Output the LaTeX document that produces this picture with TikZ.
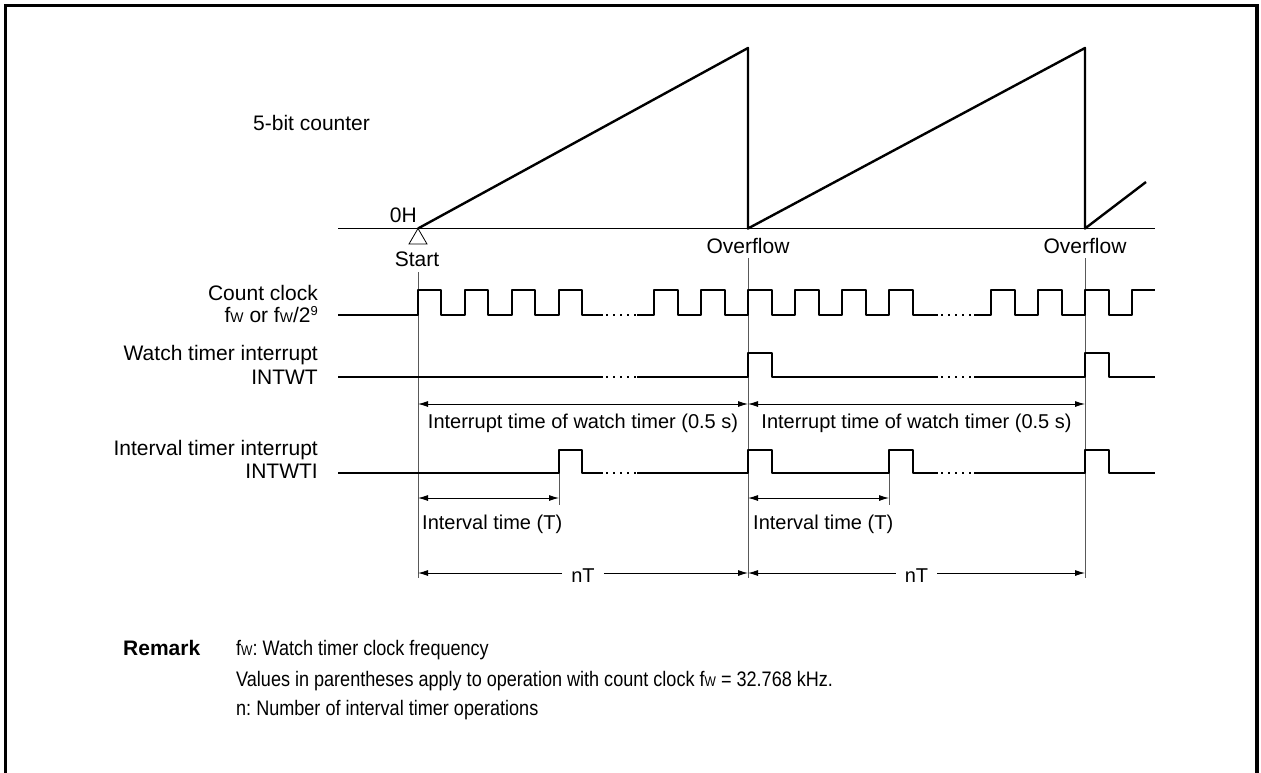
\documentclass[tikz,border=0pt]{standalone}
\usepackage{fontspec}
\setmainfont{Liberation Sans}
\newfontfamily\remfont[FakeStretch=0.86]{Liberation Sans}
\usetikzlibrary{arrows.meta}
\newcommand{\fW}{f{\fontsize{14}{14}\selectfont W}}
\frenchspacing
\begin{document}
\begin{tikzpicture}[x=1pt,y=-1pt,
  sig/.style={line width=2.4pt, line join=round},
  guide/.style={line width=0.9pt, black!65},
  dimline/.style={line width=0.9pt, {Latex[length=10pt,width=6pt]}-{Latex[length=10pt,width=6pt]}},
  dimend/.style={line width=0.9pt, -{Latex[length=10pt,width=6pt]}},
  lbl/.style={font=\fontsize{21}{25}\selectfont, inner sep=0pt},
  slbl/.style={font=\fontsize{20}{24}\selectfont, inner sep=0pt},
  rlbl/.style={font=\remfont\fontsize{21}{25}\selectfont, inner sep=0pt, anchor=base west},
  dots/.style={line width=2.4pt, dash pattern=on 2.4pt off 4.6pt}
]
\useasboundingbox (0,0) rectangle (1261,772);
\draw[line width=3.2pt] (5.5,775) -- (5.5,5.5) -- (1257,5.5) -- (1257,775);

% named positions
\coordinate (S) at (418,228.5);
\coordinate (O1) at (748,228.5);
\coordinate (O2) at (1085,228.5);

% counter
\draw[line width=1pt] (338,228.5) -- (1155,228.5);
\draw[sig] (S) -- (748,48) -- (O1) -- (1085,48) -- (O2) -- (1146,182);
\node[lbl, anchor=base west] (cnt) at (253,130) {5-bit counter};
\node[lbl, anchor=base east] (zero) at (417,222) {0H};
\draw[line width=0.8pt, fill=white] (S) -- (409,244) -- (427,244) -- cycle;
\node[lbl, anchor=base] (start) at (417,266) {Start};
\node[lbl, anchor=base] (ov1) at (748,253) {Overflow};
\node[lbl, anchor=base] (ov2) at (1085,253) {Overflow};

% guide lines
\draw[guide] (418,272) -- (418,578);
\draw[guide] (748,258) -- (748,578);
\draw[guide] (1085,258) -- (1085,578);
\draw[guide] (559,473) -- (559,505);
\draw[guide] (889,473) -- (889,505);

% signal labels
\node[lbl, anchor=base east] (l1) at (318,300) {Count clock};
\node[lbl, anchor=base east] (l2) at (318,322) {\fW{} or \fW/2\raisebox{7pt}{\fontsize{13}{13}\selectfont 9}};
\node[lbl, anchor=base east] (l3) at (318,360) {Watch timer interrupt};
\node[lbl, anchor=base east] (l4) at (318,384) {INTWT};
\node[lbl, anchor=base east] (l5) at (318,455) {Interval timer interrupt};
\node[lbl, anchor=base east] (l6) at (318,478) {INTWTI};

% count clock
\draw[sig] (338,315) -- (418,315) -- (418,290) -- (441,290) -- (441,315) -- (465,315) -- (465,290) -- (488,290) -- (488,315) -- (512,315) -- (512,290) -- (535,290) -- (535,315) -- (559,315) -- (559,290) -- (582,290) -- (582,315) -- (603,315);
\draw[dots] (606,315) -- (636.4,315);
\draw[sig] (637,315) -- (654,315) -- (654,290) -- (678,290) -- (678,315) -- (701,315) -- (701,290) -- (725,290) -- (725,315) -- (748,315) -- (748,290) -- (772,290) -- (772,315) -- (795,315) -- (795,290) -- (819,290) -- (819,315) -- (842,315) -- (842,290) -- (866,290) -- (866,315) -- (889,315) -- (889,290) -- (913,290) -- (913,315) -- (938,315);
\draw[dots] (941,315) -- (971.4,315);
\draw[sig] (974,315) -- (991,315) -- (991,290) -- (1015,290) -- (1015,315) -- (1038,315) -- (1038,290) -- (1062,290) -- (1062,315) -- (1085,315) -- (1085,290) -- (1109,290) -- (1109,315) -- (1132,315) -- (1132,290) -- (1155,290);

% INTWT
\draw[sig] (338,377) -- (603,377);
\draw[dots] (606,377) -- (636.4,377);
\draw[sig] (637,377) -- (748,377) -- (748,353) -- (772,353) -- (772,377) -- (938,377);
\draw[dots] (941,377) -- (971.4,377);
\draw[sig] (974,377) -- (1085,377) -- (1085,353) -- (1109,353) -- (1109,377) -- (1155,377);

% INTWTI
\draw[sig] (338,473) -- (559,473) -- (559,450) -- (582,450) -- (582,473) -- (603,473);
\draw[dots] (606,473) -- (636.4,473);
\draw[sig] (637,473) -- (748,473) -- (748,450) -- (772,450) -- (772,473) -- (889,473) -- (889,450) -- (913,450) -- (913,473) -- (938,473);
\draw[dots] (941,473) -- (971.4,473);
\draw[sig] (974,473) -- (1085,473) -- (1085,450) -- (1109,450) -- (1109,473) -- (1155,473);

% interrupt time dimensions
\coordinate (a1) at (418,404);
\coordinate (a2) at (748,404);
\coordinate (a3) at (1085,404);
\draw[dimline] (a1) -- (a2);
\draw[dimline] (a2) -- (a3);
\node[slbl, anchor=base] (it1) at (583,428) {Interrupt time of watch timer (0.5 s)};
\node[slbl, anchor=base] (it2) at (916.5,428) {Interrupt time of watch timer (0.5 s)};

% interval time
\coordinate (b1) at (418,498);
\coordinate (b2) at (559,498);
\coordinate (b3) at (748,498);
\coordinate (b4) at (889,498);
\draw[dimline] (b1) -- (b2);
\draw[dimline] (b3) -- (b4);
\node[slbl, anchor=base west] (iv1) at (422,529) {Interval time (T)};
\node[slbl, anchor=base west] (iv2) at (753,529) {Interval time (T)};

% nT
\coordinate (c1) at (418,573);
\coordinate (c2) at (748,573);
\coordinate (c3) at (1085,573);
\node[slbl, fill=white, inner xsep=9pt, inner ysep=1pt] (nt1) at (583,576) {nT};
\node[slbl, fill=white, inner xsep=9pt, inner ysep=1pt] (nt2) at (916.5,576) {nT};
\draw[dimend] (nt1.west |- c1) -- (c1);
\draw[dimend] (nt1.east |- c1) -- (c2);
\draw[dimend] (nt2.west |- c2) -- (c2);
\draw[dimend] (nt2.east |- c2) -- (c3);

% remark
\node[lbl, anchor=base west, font=\fontsize{21}{25}\selectfont\bfseries] (rem) at (123,655) {Remark};
\node[rlbl] (r1) at (236,655) {\fW: Watch timer clock frequency};
\node[rlbl] (r2) at (236,686) {Values in parentheses apply to operation with count clock \fW{} = 32.768 kHz.};
\node[rlbl] (r3) at (236,715) {n: Number of interval timer operations};
\end{tikzpicture}
\end{document}
